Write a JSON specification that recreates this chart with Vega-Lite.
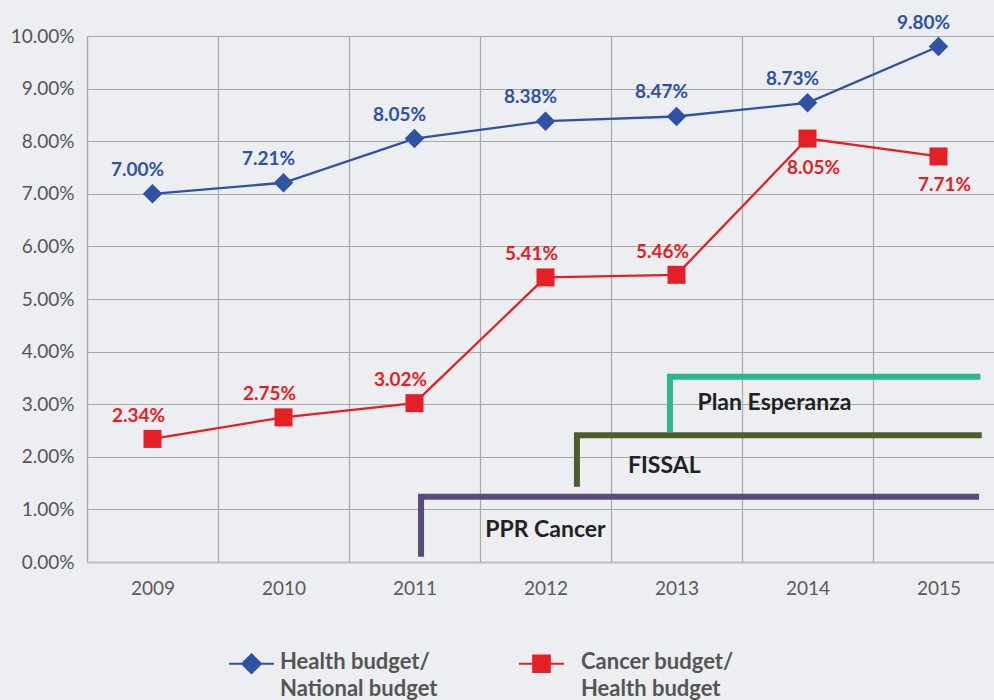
{
  "$schema": "https://vega.github.io/schema/vega-lite/v6.json",
  "autosize": {"type": "none"},
  "width": 907,
  "height": 526,
  "padding": {"left": 87, "top": 36, "right": 0, "bottom": 138},
  "background": "#eceef1",
  "config": {"view": {"stroke": null}, "font": "Lato"},
  "datasets": {
    "series": [
      {"year": 2009, "series": "Health budget/National budget", "value": 7.00},
      {"year": 2010, "series": "Health budget/National budget", "value": 7.21},
      {"year": 2011, "series": "Health budget/National budget", "value": 8.05},
      {"year": 2012, "series": "Health budget/National budget", "value": 8.38},
      {"year": 2013, "series": "Health budget/National budget", "value": 8.47},
      {"year": 2014, "series": "Health budget/National budget", "value": 8.73},
      {"year": 2015, "series": "Health budget/National budget", "value": 9.80},
      {"year": 2009, "series": "Cancer budget/Health budget", "value": 2.34},
      {"year": 2010, "series": "Cancer budget/Health budget", "value": 2.75},
      {"year": 2011, "series": "Cancer budget/Health budget", "value": 3.02},
      {"year": 2012, "series": "Cancer budget/Health budget", "value": 5.41},
      {"year": 2013, "series": "Cancer budget/Health budget", "value": 5.46},
      {"year": 2014, "series": "Cancer budget/Health budget", "value": 8.05},
      {"year": 2015, "series": "Cancer budget/Health budget", "value": 7.71}
    ],
    "programs": [
      {"program": "PPR Cancer", "step": 1, "year": 2011.05, "pct": 0.1},
      {"program": "PPR Cancer", "step": 2, "year": 2011.05, "pct": 1.24},
      {"program": "PPR Cancer", "step": 3, "year": 2015.31, "pct": 1.24},
      {"program": "FISSAL", "step": 1, "year": 2012.24, "pct": 1.43},
      {"program": "FISSAL", "step": 2, "year": 2012.24, "pct": 2.41},
      {"program": "FISSAL", "step": 3, "year": 2015.33, "pct": 2.41},
      {"program": "Plan Esperanza", "step": 1, "year": 2012.95, "pct": 2.47},
      {"program": "Plan Esperanza", "step": 2, "year": 2012.95, "pct": 3.52},
      {"program": "Plan Esperanza", "step": 3, "year": 2015.32, "pct": 3.52}
    ],
    "programLabels": [
      {"program": "PPR Cancer", "year": 2011.54, "pct": 0.61},
      {"program": "FISSAL", "year": 2012.63, "pct": 1.83},
      {"program": "Plan Esperanza", "year": 2013.16, "pct": 3.03}
    ]
  },
  "layer": [
    {
      "data": {"name": "series"},
      "mark": {"type": "line", "strokeWidth": 2.3},
      "encoding": {
        "x": {
          "field": "year", "type": "quantitative", "title": null,
          "scale": {"domain": [2008.5, 2015.4237], "nice": false, "zero": false},
          "axis": {
            "values": [2008.5, 2009, 2009.5, 2010, 2010.5, 2011, 2011.5, 2012, 2012.5, 2013, 2013.5, 2014, 2014.5, 2015],
            "grid": true, "gridColor": "#a9a9a9", "gridWidth": 1.2,
            "gridOpacity": {"condition": {"test": "datum.value % 1 === 0", "value": 0}, "value": 1},
            "ticks": false, "domainColor": "#bdbdbd", "domainWidth": 2,
            "labelExpr": "datum.value % 1 === 0 ? format(datum.value, 'd') : ''",
            "labelFontSize": 19, "labelColor": "#5a5a5a", "labelPadding": 17,
            "labelOverlap": false, "labelFlush": false, "labelBound": false
          }
        },
        "y": {
          "field": "value", "type": "quantitative", "title": null,
          "scale": {"domain": [0, 10], "nice": false},
          "axis": {
            "values": [0, 1, 2, 3, 4, 5, 6, 7, 8, 9, 10],
            "grid": true, "gridColor": "#a9a9a9", "gridWidth": 1.2,
            "ticks": false, "domainColor": "#a9a9a9", "domainWidth": 1.2,
            "labelExpr": "format(datum.value, '.2f') + '%'",
            "labelFontSize": 19, "labelColor": "#555555", "labelPadding": 13
          }
        },
        "color": {
          "field": "series", "type": "nominal",
          "scale": {"domain": ["Health budget/National budget", "Cancer budget/Health budget"], "range": ["#2f52a4", "#e41f26"]}
        }
      }
    },
    {
      "data": {"name": "programs"},
      "transform": [{"filter": "datum.program == 'PPR Cancer'"}],
      "mark": {"type": "line", "strokeWidth": 6, "strokeJoin": "miter", "strokeCap": "butt", "color": "#5b4b79"},
      "encoding": {
        "x": {"field": "year", "type": "quantitative", "title": null},
        "y": {"field": "pct", "type": "quantitative", "title": null},
        "order": {"field": "step", "type": "quantitative"}
      }
    },
    {
      "data": {"name": "programs"},
      "transform": [{"filter": "datum.program == 'FISSAL'"}],
      "mark": {"type": "line", "strokeWidth": 6, "strokeJoin": "miter", "strokeCap": "butt", "color": "#4a5e2b"},
      "encoding": {
        "x": {"field": "year", "type": "quantitative", "title": null},
        "y": {"field": "pct", "type": "quantitative", "title": null},
        "order": {"field": "step", "type": "quantitative"}
      }
    },
    {
      "data": {"name": "programs"},
      "transform": [{"filter": "datum.program == 'Plan Esperanza'"}],
      "mark": {"type": "line", "strokeWidth": 6, "strokeJoin": "miter", "strokeCap": "butt", "color": "#2bb98b"},
      "encoding": {
        "x": {"field": "year", "type": "quantitative", "title": null},
        "y": {"field": "pct", "type": "quantitative", "title": null},
        "order": {"field": "step", "type": "quantitative"}
      }
    },
    {
      "data": {"name": "series"},
      "transform": [{"filter": "datum.series == 'Health budget/National budget'"}],
      "mark": {"type": "point", "filled": true, "opacity": 1, "size": 380, "shape": "diamond"},
      "encoding": {
        "x": {"field": "year", "type": "quantitative", "title": null},
        "y": {"field": "value", "type": "quantitative", "title": null},
        "color": {"field": "series", "type": "nominal"}
      }
    },
    {
      "data": {"name": "series"},
      "transform": [{"filter": "datum.series == 'Cancer budget/Health budget'"}],
      "mark": {"type": "point", "filled": true, "opacity": 1, "size": 324, "shape": "square"},
      "encoding": {
        "x": {"field": "year", "type": "quantitative", "title": null},
        "y": {"field": "value", "type": "quantitative", "title": null},
        "color": {"field": "series", "type": "nominal"}
      }
    },
    {
      "data": {"name": "series"},
      "mark": {"type": "point", "filled": true, "opacity": 0, "strokeWidth": 2},
      "encoding": {
        "x": {"field": "year", "type": "quantitative", "title": null},
        "y": {"field": "value", "type": "quantitative", "title": null},
        "color": {
          "field": "series", "type": "nominal",
          "legend": {
            "orient": "none", "legendX": 141, "legendY": 604,
            "direction": "horizontal", "columns": 2, "columnPadding": 77,
            "title": null,
            "labelFont": "Lato", "labelFontSize": 22, "labelFontWeight": "bold", "labelColor": "#555555",
            "labelLimit": 0, "labelOffset": 5, "labelBaseline": "top",
            "labelExpr": "datum.label == 'Health budget/National budget' ? ['Health budget/', 'National budget'] : ['Cancer budget/', 'Health budget']",
            "symbolSize": 2025, "symbolStrokeWidth": 2, "symbolOpacity": 1,
            "encode": {
              "labels": {
                "update": {
                  "lineHeight": {"value": 27},
                  "dy": {"value": -12},
                  "dx": {"signal": "datum.value == 'Cancer budget/Health budget' ? 11 : 0"}
                }
              }
            }
          }
        },
        "stroke": {
          "field": "series", "type": "nominal",
          "scale": {"domain": ["Health budget/National budget", "Cancer budget/Health budget"], "range": ["#2f52a4", "#e41f26"]}
        },
        "shape": {
          "field": "series", "type": "nominal",
          "scale": {"domain": ["Health budget/National budget", "Cancer budget/Health budget"], "range": ["M-1,0L1,0M0,-0.42L0.42,0L0,0.42L-0.42,0Z", "M-1,0L1,0M-0.37,-0.37L0.37,-0.37L0.37,0.37L-0.37,0.37Z"]}
        }
      }
    },
    {
      "data": {"name": "series"},
      "transform": [{"filter": "datum.series == 'Health budget/National budget'"}, {"calculate": "format(datum.value, '.2f') + '%'", "as": "label"}],
      "mark": {"type": "text", "font": "Lato", "fontWeight": "bold", "fontSize": 19, "color": "#2f52a4", "dx": -15, "dy": -24},
      "encoding": {
        "x": {"field": "year", "type": "quantitative", "title": null},
        "y": {"field": "value", "type": "quantitative", "title": null},
        "text": {"field": "label"}
      }
    },
    {
      "data": {"name": "series"},
      "transform": [{"filter": "datum.series == 'Cancer budget/Health budget' && datum.year < 2014"}, {"calculate": "format(datum.value, '.2f') + '%'", "as": "label"}],
      "mark": {"type": "text", "font": "Lato", "fontWeight": "bold", "fontSize": 19, "color": "#e41f26", "dx": -14, "dy": -23},
      "encoding": {
        "x": {"field": "year", "type": "quantitative", "title": null},
        "y": {"field": "value", "type": "quantitative", "title": null},
        "text": {"field": "label"}
      }
    },
    {
      "data": {"name": "series"},
      "transform": [{"filter": "datum.series == 'Cancer budget/Health budget' && datum.year >= 2014"}, {"calculate": "format(datum.value, '.2f') + '%'", "as": "label"}],
      "mark": {"type": "text", "font": "Lato", "fontWeight": "bold", "fontSize": 19, "color": "#e41f26", "dx": 6, "dy": 29},
      "encoding": {
        "x": {"field": "year", "type": "quantitative", "title": null},
        "y": {"field": "value", "type": "quantitative", "title": null},
        "text": {"field": "label"}
      }
    },
    {
      "data": {"name": "programLabels"},
      "mark": {"type": "text", "font": "Lato", "fontWeight": "bold", "fontSize": 23, "color": "#222222", "align": "left", "baseline": "middle"},
      "encoding": {
        "x": {"field": "year", "type": "quantitative", "title": null},
        "y": {"field": "pct", "type": "quantitative", "title": null},
        "text": {"field": "program"}
      }
    }
  ]
}
